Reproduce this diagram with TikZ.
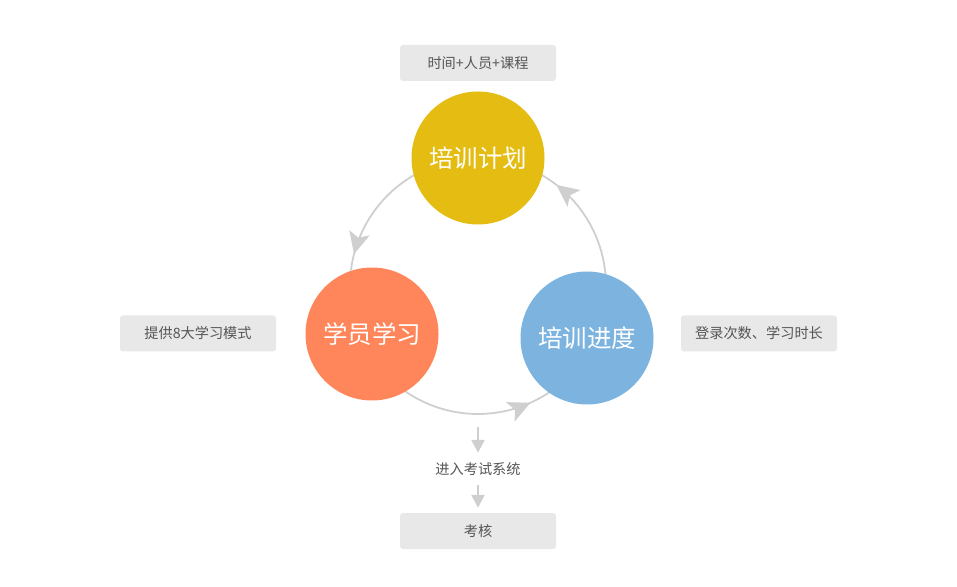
\documentclass[tikz,border=0pt]{standalone}
\usepackage{fontspec}
\setmainfont{Noto Sans CJK SC}
\usepackage{tikz}
\usetikzlibrary{arrows.meta,decorations.markings,backgrounds}
\definecolor{planyellow}{HTML}{E5BC12}
\definecolor{studyorange}{HTML}{FF865A}
\definecolor{progblue}{HTML}{7DB3DF}
\definecolor{boxgray}{HTML}{E8E8E8}
\definecolor{linegray}{HTML}{CFCFCF}
\definecolor{textgray}{HTML}{555555}
\tikzset{
	stage/.style={circle, minimum size=133pt, inner sep=0pt, text=white, font=\fontsize{24.5}{28}\selectfont},
	infobox/.style={rectangle, rounded corners=3pt, fill=boxgray, minimum width=156pt, minimum height=36pt, text=textgray, font=\fontsize{14.2}{17}\selectfont},
	ring/.style={draw=linegray, line width=1.8pt, postaction={decorate},
		decoration={markings, mark=at position 0.86 with {\arrow{Stealth[length=22pt, width=21pt, inset=5pt, linegray]}}}},
	downarrow/.style={draw=linegray, line width=2.6pt, -{Triangle[length=13pt, width=13pt]}}
}
\begin{document}
\begin{tikzpicture}[x=1pt, y=1pt]
		\useasboundingbox (0, 0) rectangle (957, 586);
		\coordinate (center) at (478, 300);
		\node[stage, fill=planyellow] (plan) at (478, 428) {培训计划};
		\node[stage, fill=studyorange] (study) at (372, 252) {学员学习};
		\node[stage, fill=progblue] (progress) at (587, 248) {培训进度};
		\begin{scope}[on background layer]
			\foreach \a/\b in {120/173, 234/304, 4/60}
				\draw[ring] (center) ++(\a:128) arc[start angle=\a, end angle=\b, radius=128];
		\end{scope}
		\node[infobox] (resources) at (478, 523) {时间+人员+课程};
		\node[infobox] (modes) at (198, 252.5) {提供8大学习模式};
		\node[infobox] (records) at (759, 252.5) {登录次数、学习时长};
		\node[text=textgray, font=\fontsize{14.2}{17}\selectfont, minimum height=32pt, inner sep=0pt] (exam) at (478, 117) {进入考试系统};
		\node[infobox] (check) at (478, 55) {考核};
		\coordinate (examtop) at (478, 159);
		\draw[downarrow] (examtop) -- (exam.north);
		\draw[downarrow, shorten >=5pt] (exam.south) -- (check.north);
	\end{tikzpicture}
\end{document}
